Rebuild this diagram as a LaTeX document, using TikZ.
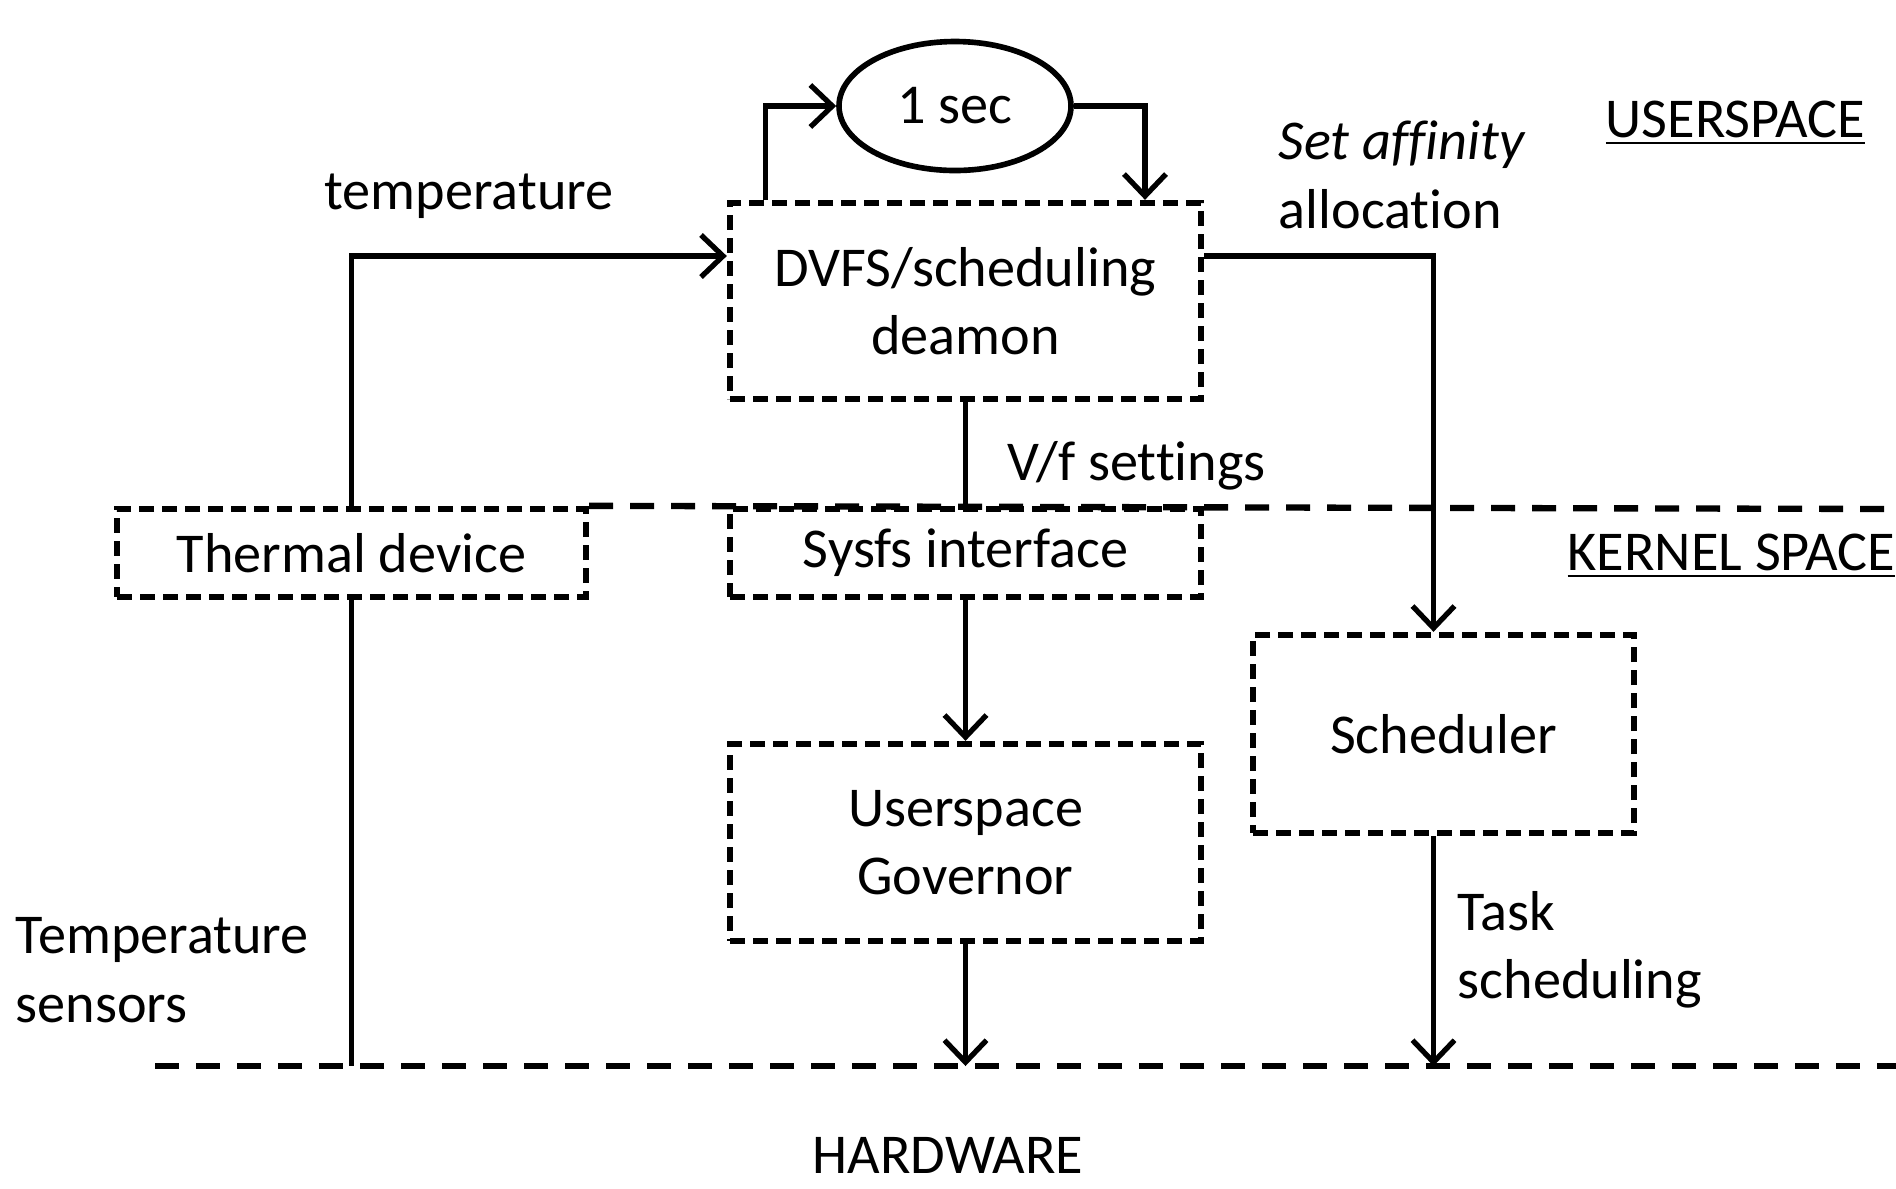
\documentclass[tikz,border=0pt]{standalone}
\usepackage{fontspec}
\setmainfont[Ligatures=NoCommon]{Carlito}
\usetikzlibrary{arrows.meta,shapes.geometric}
\begin{document}
\begin{tikzpicture}[
        font=\fontsize{16}{19.5}\selectfont,
        dbox/.style={rectangle, draw=black, line width=1.8pt, dash pattern=on 1.5mm off 0.8mm, align=center, inner sep=0pt},
        arr/.style={line width=1.5pt, -{Straight Barb[length=2.2mm,width=4.2mm,line width=1.5pt]}},
        plain/.style={line width=1.5pt},
        layer/.style={line width=1.8pt, dash pattern=on 2.4mm off 1.7mm}
    ]
        \useasboundingbox (0,0) rectangle (18.96,-11.88);
        % boxes
        \node[dbox, minimum width=4.71cm, minimum height=1.96cm] (dvfs) at (9.655,-3.01) {DVFS/scheduling\\deamon};
        \node[ellipse, draw, line width=1.6pt, minimum width=2.32cm, minimum height=1.29cm, inner sep=0pt] (sec) at (9.55,-1.06) {1 sec};
        \node[dbox, minimum width=4.69cm, minimum height=0.88cm] (thermal) at (3.515,-5.53) {Thermal device};
        \node[dbox, minimum width=4.71cm, minimum height=0.88cm] (sysfs) at (9.655,-5.53) {Sysfs interface};
        \node[dbox, minimum width=4.71cm, minimum height=1.97cm] (ug) at (9.655,-8.425) {Userspace\\Governor};
        \node[dbox, minimum width=3.81cm, minimum height=1.98cm] (sched) at (14.435,-7.34) {Scheduler};
        % layer borders
        \coordinate (kR) at (18.96,-5.09);
        \coordinate (hwL) at (1.55,-10.66);
        \coordinate (hwR) at (18.96,-10.66);
        \draw[layer] (thermal.north east) -- (kR);
        \draw[layer] (hwL) -- (hwR);
        % connectors
        \draw[arr] (thermal.north) |- ([yshift=4.5mm]dvfs.west);
        \draw[plain] (thermal.south) -- (thermal.south |- hwL);
        \draw[arr] ([xshift=-20mm]dvfs.north) |- (sec.west);
        \draw[arr] (sec.east) -| ([xshift=17.95mm]dvfs.north);
        \draw[arr] ([yshift=4.5mm]dvfs.east) -| ([xshift=-1mm]sched.north);
        \draw[plain] (dvfs.south) -- (sysfs.north);
        \draw[arr] (sysfs.south) -- (ug.north);
        \draw[arr] (ug.south) -- (ug.south |- hwL);
        \draw[arr] ([xshift=-1mm]sched.south) -- ([xshift=-1mm]sched.south |- hwL);
        % labels
        \node (temp) at (4.69,-1.96) {temperature};
        \node[anchor=west, align=left, inner sep=0pt] (aff) at (12.78,-1.75) {\textit{Set affinity}\\allocation};
        \node[anchor=west, inner sep=0pt] (vf) at (10.07,-4.66) {V/f settings};
        \node[anchor=west, align=left, inner sep=0pt] (task) at (14.57,-9.5) {Task\\scheduling};
        \node[anchor=west, align=left, inner sep=0pt] (sens) at (0.15,-9.7) {Temperature\\sensors};
        \node (user) at (17.355,-1.23) {\underline{USERSPACE}};
        \node[anchor=west, inner sep=0pt] (kern) at (15.67,-5.56) {\underline{KERNEL SPACE}};
        \node (hw) at (9.48,-11.55) {HARDWARE};
    \end{tikzpicture}
\end{document}
